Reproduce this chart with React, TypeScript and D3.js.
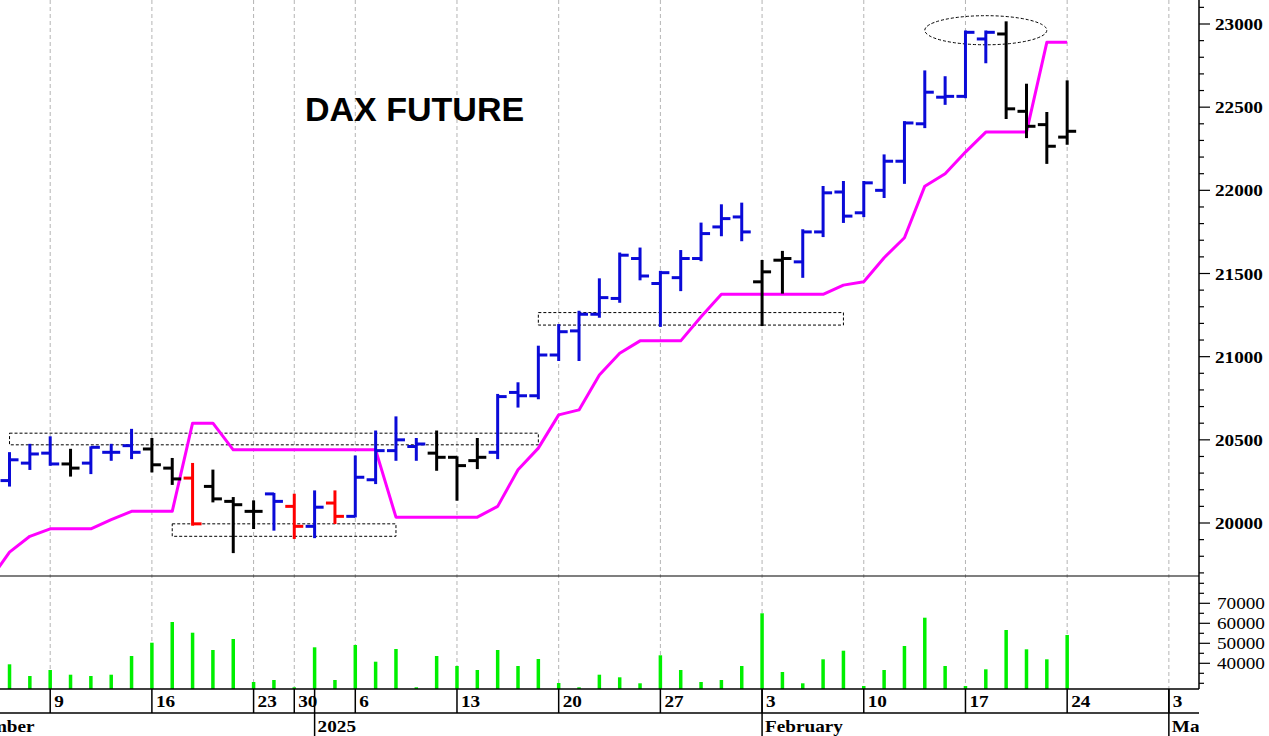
import React, { useEffect, useRef } from 'react';
import * as d3 from 'd3';

// Trading sessions on the time axis (Eurex calendar, holidays removed)
const sessions = [
  '2024-12-02', '2024-12-03', '2024-12-04', '2024-12-05', '2024-12-06',
  '2024-12-09', '2024-12-10', '2024-12-11', '2024-12-12', '2024-12-13',
  '2024-12-16', '2024-12-17', '2024-12-18', '2024-12-19', '2024-12-20',
  '2024-12-23', '2024-12-27',
  '2024-12-30', '2025-01-02', '2025-01-03',
  '2025-01-06', '2025-01-07', '2025-01-08', '2025-01-09', '2025-01-10',
  '2025-01-13', '2025-01-14', '2025-01-15', '2025-01-16', '2025-01-17',
  '2025-01-20', '2025-01-21', '2025-01-22', '2025-01-23', '2025-01-24',
  '2025-01-27', '2025-01-28', '2025-01-29', '2025-01-30', '2025-01-31',
  '2025-02-03', '2025-02-04', '2025-02-05', '2025-02-06', '2025-02-07',
  '2025-02-10', '2025-02-11', '2025-02-12', '2025-02-13', '2025-02-14',
  '2025-02-17', '2025-02-18', '2025-02-19', '2025-02-20', '2025-02-21',
  '2025-02-24', '2025-02-25', '2025-02-26', '2025-02-27', '2025-02-28',
  '2025-03-03', '2025-03-04',
];

// Daily bars
const barDays = [
  '2024-12-05', '2024-12-06', '2024-12-09', '2024-12-10', '2024-12-11', '2024-12-12', '2024-12-13',
  '2024-12-16', '2024-12-17', '2024-12-18', '2024-12-19', '2024-12-20', '2024-12-23', '2024-12-27',
  '2024-12-30', '2025-01-02', '2025-01-03', '2025-01-06', '2025-01-07', '2025-01-08', '2025-01-09',
  '2025-01-10', '2025-01-13', '2025-01-14', '2025-01-15', '2025-01-16', '2025-01-17', '2025-01-20',
  '2025-01-21', '2025-01-22', '2025-01-23', '2025-01-24', '2025-01-27', '2025-01-28', '2025-01-29',
  '2025-01-30', '2025-01-31', '2025-02-03', '2025-02-04', '2025-02-05', '2025-02-06', '2025-02-07',
  '2025-02-10', '2025-02-11', '2025-02-12', '2025-02-13', '2025-02-14', '2025-02-17', '2025-02-18',
  '2025-02-19', '2025-02-20', '2025-02-21', '2025-02-24',
];
const opens = [
  20255, 20360, 20420, 20355, 20360, 20425, 20465,
  20445, 20330, 20270, 20220, 20130, 20070, 20175,
  20100, 19980, 20120, 20040, 20260, 20435, 20460,
  20420, 20395, 20375, 20425, 20785, 20765, 21010,
  21155, 21255, 21350, 21590, 21440, 21475, 21590,
  21780, 21840, 21450, 21580, 21570, 21750, 21990,
  21865, 22000, 22175, 22400, 22560, 22565, 22910,
  22940, 22475, 22395, 22320,
];
const highs = [
  20420, 20470, 20515, 20440, 20455, 20470, 20560,
  20505, 20385, 20355, 20315, 20150, 20130, 20175,
  20170, 20190, 20190, 20400, 20550, 20635, 20505,
  20550, 20395, 20505, 20770, 20840, 21060, 21190,
  21270, 21465, 21620, 21650, 21510, 21635, 21800,
  21910, 21920, 21575, 21630, 21760, 22020, 22050,
  22050, 22210, 22410, 22715, 22680, 22955, 22955,
  23010, 22635, 22465, 22655,
];
const lows = [
  20225, 20325, 20350, 20285, 20300, 20380, 20390,
  20310, 20235, 19990, 20130, 19825, 19970, 19960,
  19910, 19915, 20000, 20040, 20240, 20380, 20380,
  20320, 20140, 20330, 20390, 20700, 20750, 20980,
  20980, 21240, 21330, 21465, 21185, 21400, 21580,
  21730, 21700, 21190, 21385, 21480, 21725, 21810,
  21845, 21960, 22045, 22380, 22520, 22560, 22770,
  22435, 22320, 22165, 22280,
];
const closes = [
  20380, 20415, 20355, 20330, 20455, 20425, 20425,
  20350, 20265, 19995, 20145, 20110, 20070, 20130,
  19980, 20095, 20040, 20275, 20435, 20500, 20475,
  20395, 20345, 20395, 20760, 20765, 21010, 21150,
  21255, 21355, 21610, 21485, 21505, 21590, 21740,
  21830, 21750, 21510, 21590, 21750, 21985, 21845,
  22045, 22175, 22405, 22590, 22565, 22950, 22950,
  22490, 22385, 22265, 22355,
];
// b = blue, k = black, r = red
const barColors = [
  'b', 'b', 'b', 'k', 'b', 'b', 'b',
  'k', 'k', 'r', 'k', 'k', 'k', 'b',
  'r', 'b', 'r', 'b', 'b', 'b', 'b',
  'k', 'k', 'k', 'b', 'b', 'b', 'b',
  'b', 'b', 'b', 'b', 'b', 'b', 'b',
  'b', 'b', 'k', 'k', 'b', 'b', 'b',
  'b', 'b', 'b', 'b', 'b', 'b', 'b',
  'k', 'k', 'k', 'k',
];
const volumes = [
  39500, 33650, 36650, 34300, 33650, 34300, 43650,
  50300, 60650, 55300, 46650, 52150, 30650, 31650,
  28000, 48000, 31650, 49150, 40800, 47150, 28000,
  43650, 38650, 36650, 46650, 38650, 42150, 30150,
  28000, 34300, 33000, 30000, 44000, 36650, 30650,
  31650, 38650, 65000, 35650, 30000, 42000, 46300,
  28650, 36650, 48650, 62800, 38650, 28650, 37000,
  56650, 47000, 42000, 54150,
];

// Trailing stop line (magenta)
const stopDays = ['2024-12-04', ...barDays];
const stopLevels = [
  19650,
  19825, 19920, 19965, 19965, 19965, 20020, 20070,
  20070, 20070, 20600, 20600, 20440, 20440, 20440,
  20440, 20440, 20440, 20440, 20440, 20035, 20035,
  20035, 20035, 20035, 20100, 20320, 20450, 20650,
  20680, 20890, 21020, 21095, 21095, 21095, 21240,
  21375, 21375, 21375, 21375, 21375, 21375, 21430,
  21450, 21595, 21715, 22025, 22100, 22230, 22350,
  22350, 22350, 22890, 22890,
];

// Axis ticks
const weekTicks = [
  '2024-12-09', '2024-12-16', '2024-12-23', '2024-12-30', '2025-01-06', '2025-01-13', '2025-01-20',
  '2025-01-27', '2025-02-03', '2025-02-10', '2025-02-17', '2025-02-24', '2025-03-03',
];
const monthTicks = ['2024-12-02', '2025-01-02', '2025-02-03', '2025-03-03'];
const monthLabels = ['December', '2025', 'February', 'March'];
const priceTicks = [20000, 20500, 21000, 21500, 22000, 22500, 23000];
const volumeTicks = [40000, 50000, 60000, 70000];

// Dashed annotation boxes
const boxFrom = ['2024-12-05', '2024-12-17', '2025-01-17'];
const boxTo = ['2025-01-17', '2025-01-08', '2025-02-07'];
const boxUpper = [20540, 19995, 21265];
const boxLower = [20470, 19920, 21190];
// Dashed ellipse round the top
const ellipseFrom = '2025-02-13';
const ellipseTo = '2025-02-21';
const ellipseUpper = 23050;
const ellipseLower = 22875;

const colorMap: Record<string, string> = { b: '#0a0ad8', k: '#000000', r: '#ff0000' };

const App: React.FC = () => {
  const svgRef = useRef<SVGSVGElement>(null);

  useEffect(() => {
    const W = 1269;
    const H = 736;
    const axisX = 1199;
    const priceBottom = 576;
    const volBase = 689;
    const dateRow = 713;

    const svg = d3.select(svgRef.current);
    svg.selectAll('*').remove();
    svg.attr('width', W).attr('height', H).style('background', '#fff');

    const x = d3.scalePoint<string>().domain(sessions).range([-51.5, 1189.2]);
    const yPrice = d3.scaleLinear().domain([20000, 23000]).range([523, 24]);
    const yVol = d3.scaleLinear().domain([40000, 70000]).range([663.3, 603.3]);
    const px = (d: string) => x(d) ?? 0;
    const parse = d3.timeParse('%Y-%m-%d');
    const dayFmt = d3.timeFormat('%-d');

    const defs = svg.append('defs');
    defs.append('clipPath').attr('id', 'priceClip')
      .append('rect').attr('x', 0).attr('y', 0).attr('width', axisX).attr('height', priceBottom);
    defs.append('clipPath').attr('id', 'axisClip')
      .append('rect').attr('x', 0).attr('y', 0).attr('width', axisX).attr('height', H);

    // Weekly dashed grid lines
    svg.append('g')
      .selectAll('line')
      .data(weekTicks)
      .enter()
      .append('line')
      .attr('x1', d => px(d))
      .attr('x2', d => px(d))
      .attr('y1', 0)
      .attr('y2', volBase)
      .attr('stroke', '#b4b4b4')
      .attr('stroke-width', 1)
      .attr('stroke-dasharray', '4,3');

    const price = svg.append('g').attr('clip-path', 'url(#priceClip)');

    // Dashed boxes
    boxFrom.forEach((f, i) => {
      price.append('rect')
        .attr('x', px(f))
        .attr('y', yPrice(boxUpper[i]))
        .attr('width', px(boxTo[i]) - px(f))
        .attr('height', yPrice(boxLower[i]) - yPrice(boxUpper[i]))
        .attr('fill', 'none')
        .attr('stroke', '#000')
        .attr('stroke-width', 1)
        .attr('stroke-dasharray', '3,2');
    });

    price.append('ellipse')
      .attr('cx', (px(ellipseFrom) + px(ellipseTo)) / 2)
      .attr('cy', (yPrice(ellipseUpper) + yPrice(ellipseLower)) / 2)
      .attr('rx', (px(ellipseTo) - px(ellipseFrom)) / 2)
      .attr('ry', (yPrice(ellipseLower) - yPrice(ellipseUpper)) / 2)
      .attr('fill', 'none')
      .attr('stroke', '#000')
      .attr('stroke-width', 1)
      .attr('stroke-dasharray', '3,2');

    // Stop line
    const stopLine = d3.line<number>()
      .x((_, i) => px(stopDays[i]))
      .y(d => yPrice(d));

    price.append('path')
      .datum(stopLevels)
      .attr('fill', 'none')
      .attr('stroke', '#ff00ff')
      .attr('stroke-width', 3)
      .attr('stroke-linejoin', 'round')
      .attr('d', stopLine);

    // OHLC bars
    const tick = 9;
    const bars = price.append('g').selectAll('g')
      .data(barDays)
      .enter()
      .append('g')
      .attr('stroke', (_, i) => colorMap[barColors[i]])
      .attr('stroke-width', 3);

    bars.append('line')
      .attr('x1', d => px(d)).attr('x2', d => px(d))
      .attr('y1', (_, i) => yPrice(highs[i]) - 1)
      .attr('y2', (_, i) => yPrice(lows[i]) + 1);
    bars.append('line')
      .attr('x1', d => px(d) - tick).attr('x2', d => px(d))
      .attr('y1', (_, i) => yPrice(opens[i]))
      .attr('y2', (_, i) => yPrice(opens[i]));
    bars.append('line')
      .attr('x1', d => px(d)).attr('x2', d => px(d) + tick)
      .attr('y1', (_, i) => yPrice(closes[i]))
      .attr('y2', (_, i) => yPrice(closes[i]));

    // Volume bars
    svg.append('g')
      .selectAll('line')
      .data(volumes)
      .enter()
      .append('line')
      .attr('x1', (_, i) => px(barDays[i]))
      .attr('x2', (_, i) => px(barDays[i]))
      .attr('y1', d => yVol(d))
      .attr('y2', volBase)
      .attr('stroke', '#00f000')
      .attr('stroke-width', 3.5);

    // Frame lines
    const frame = svg.append('g').attr('stroke', '#000');
    frame.append('line').attr('x1', 0).attr('x2', axisX).attr('y1', priceBottom).attr('y2', priceBottom).attr('stroke-width', 1.2);
    frame.append('line').attr('x1', 0).attr('x2', axisX).attr('y1', volBase).attr('y2', volBase).attr('stroke-width', 1.5);
    frame.append('line').attr('x1', 0).attr('x2', axisX).attr('y1', dateRow).attr('y2', dateRow).attr('stroke-width', 1.5);
    frame.append('line').attr('x1', axisX).attr('x2', axisX).attr('y1', 0).attr('y2', volBase).attr('stroke-width', 1.5);

    const stretch = 1.2;
    const addText = (g: d3.Selection<SVGGElement, unknown, null, undefined>, tx: number, ty: number, s: string, weight: string) =>
      g.append('text')
        .attr('transform', `translate(${tx},${ty}) scale(${stretch},1)`)
        .style('font-family', '"Liberation Serif", "Times New Roman", serif')
        .style('font-size', '16px')
        .style('font-weight', weight)
        .style('fill', '#000')
        .text(s);

    // Price axis ticks and labels
    const pAxis = svg.append('g');
    pAxis.selectAll('line.minor')
      .data(d3.range(19700, 23101, 100))
      .enter()
      .append('line')
      .attr('x1', axisX).attr('x2', d => axisX + (d % 500 === 0 ? 11 : 5))
      .attr('y1', d => yPrice(d)).attr('y2', d => yPrice(d))
      .attr('stroke', '#000').attr('stroke-width', 1.2);
    priceTicks.forEach(p => addText(pAxis, 1215, yPrice(p) + 6, String(p), 'bold'));

    // Volume axis ticks and labels
    const vAxis = svg.append('g');
    vAxis.selectAll('line')
      .data(d3.range(30000, 80001, 5000))
      .enter()
      .append('line')
      .attr('x1', axisX).attr('x2', d => axisX + (volumeTicks.includes(d) ? 11 : 5))
      .attr('y1', d => yVol(d)).attr('y2', d => yVol(d))
      .attr('stroke', '#000').attr('stroke-width', 1.2);
    volumeTicks.forEach(v => addText(vAxis, 1217, yVol(v) + 6, String(v), 'normal'));

    // Time axis
    const tAxis = svg.append('g').attr('clip-path', 'url(#axisClip)');
    weekTicks.forEach(d => {
      tAxis.append('line')
        .attr('x1', px(d)).attr('x2', px(d))
        .attr('y1', volBase).attr('y2', dateRow)
        .attr('stroke', '#000').attr('stroke-width', 1.5);
      addText(tAxis, px(d) + 4, 707, dayFmt(parse(d) as Date), 'bold');
    });
    monthTicks.forEach((d, i) => {
      tAxis.append('line')
        .attr('x1', px(d)).attr('x2', px(d))
        .attr('y1', volBase).attr('y2', H)
        .attr('stroke', '#000').attr('stroke-width', 1.5);
      addText(tAxis, px(d) + 3, 732, monthLabels[i], 'bold');
    });

    // Title
    svg.append('text')
      .attr('x', 305)
      .attr('y', 121)
      .style('font-family', '"Liberation Sans", Arial, sans-serif')
      .style('font-size', '34px')
      .style('font-weight', 'bold')
      .style('fill', '#000')
      .text('DAX FUTURE');
  }, []);

  return (
    <div style={{ position: 'absolute', left: 0, top: 0 }}>
      <svg ref={svgRef} style={{ display: 'block' }}></svg>
    </div>
  );
};

export default App;
